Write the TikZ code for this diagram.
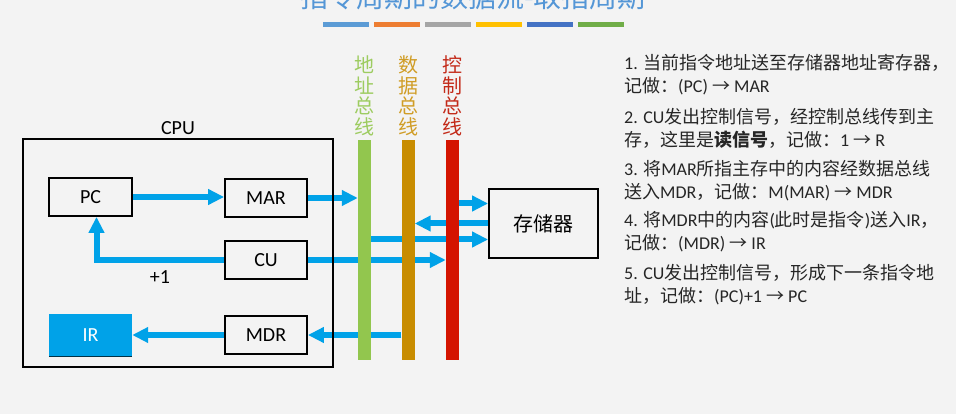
\documentclass[tikz,border=0pt]{standalone}
\usepackage{fontspec}
\setmainfont{Carlito}
\newfontfamily\cjk{Noto Sans CJK SC}
\usetikzlibrary{arrows.meta}

\definecolor{flowblue}{RGB}{0,162,232}
\definecolor{addrgreen}{RGB}{146,198,78}
\definecolor{datagold}{RGB}{200,140,0}
\definecolor{ctrlred}{RGB}{212,20,0}
\definecolor{bggray}{RGB}{243,243,243}
\definecolor{titleblue}{RGB}{84,150,214}
\definecolor{barblue}{RGB}{91,155,213}
\definecolor{barorange}{RGB}{237,125,49}
\definecolor{bargray}{RGB}{165,165,165}
\definecolor{baryellow}{RGB}{255,192,0}
\definecolor{bardarkblue}{RGB}{68,114,196}
\definecolor{bargreen}{RGB}{112,173,71}

\newcommand{\zh}[1]{{\cjk #1}}

\pgfdeclarelayer{back}
\pgfdeclarelayer{flows}
\pgfsetlayers{back,flows,main}

\tikzset{
  reg/.style={draw=black, line width=1.8pt, minimum width=82pt, minimum height=38pt,
    inner sep=0pt, font=\fontsize{20}{23}\selectfont},
  bus/.style={minimum width=13pt, minimum height=220pt, inner sep=0pt},
  buslabel/.style={anchor=south, align=center, inner sep=1pt,
    font=\cjk\fontsize{20}{20.5}\selectfont},
  flow/.style={draw=flowblue, line width=6pt, -{Triangle[length=16pt,width=15pt]}},
  stepnote/.style={anchor=west, align=left, inner sep=0pt, text=black!85,
    font=\fontsize{18}{23}\selectfont},
}

\begin{document}
\begin{tikzpicture}[x=1pt, y=-1pt]
    \useasboundingbox (0,0) rectangle (956,414);
    \begin{pgfonlayer}{back}
        \fill[bggray] (0,0) rectangle (956,414);
    \end{pgfonlayer}

    % Title (cut off at the top) and colour strip
    \node[titleblue, anchor=base, inner sep=0pt, font=\cjk\fontsize{28}{30}\selectfont]
        (title) at (473,8) {指令周期的数据流-取指周期};
    \foreach \c [count=\i from 0] in {barblue,barorange,bargray,baryellow,bardarkblue,bargreen}
        \fill[\c] (323+\i*51,22) rectangle ++(46,5);

    % CPU and its registers
    \node[draw, line width=2pt, minimum width=310pt, minimum height=228pt, inner sep=0pt,
        label={[font=\fontsize{20}{23}\selectfont]above:CPU}] (cpu) at (178,253) {};
    \node[reg, minimum width=83pt] (pc) at (90.5,197) {PC};
    \node[reg] (mar) at (266,198) {MAR};
    \node[reg] (cu) at (266,260) {CU};
    \node[reg] (mdr) at (266,335) {MDR};
    \node[fill=flowblue, text=white, minimum width=83pt, minimum height=42pt, inner sep=0pt,
        font=\fontsize{20}{23}\selectfont] (ir) at (90.5,335) {IR};
    \draw[line width=1.2pt, black!70!flowblue] (ir.south west) -- (ir.south east);
    \node[font=\fontsize{20}{23}\selectfont] (inc) at (160,277) {+1};

    % Buses
    \node[bus, fill=addrgreen] (abus) at (364.5,250) {};
    \node[bus, fill=datagold] (dbus) at (408,250) {};
    \node[bus, fill=ctrlred] (cbus) at (452.5,250) {};
    \node[buslabel, text=addrgreen!90!white] at ([yshift=3pt]abus.north) {地\\址\\总\\线};
    \node[buslabel, text=datagold!85!white] at ([yshift=3pt]dbus.north) {数\\据\\总\\线};
    \node[buslabel, text=ctrlred!80!gray] at ([yshift=3pt]cbus.north) {控\\制\\总\\线};

    % Memory
    \node[reg, minimum width=109pt, minimum height=69pt, font=\cjk\fontsize{20}{22}\selectfont]
        (mem) at (543.5,223.5) {存储器};
    \coordinate (m1) at ([yshift=20pt]mem.west);
    \coordinate (m3) at ([yshift=-16pt]mem.west);

    % Data flow (under the buses and boxes)
    \begin{pgfonlayer}{flows}
        \draw[flow] (pc.east) -- (pc.east -| mar.west);
        \draw[flow] (cu.west) -| ([xshift=6pt]pc.south);
        \draw[flow] (mdr.west) -- (ir.east);
        \draw[flow] (mar.east) -- (mar.east -| abus.west);
        \draw[flow] (cu.east) -- (cu.east -| cbus.west);
        \draw[flow] (dbus.west |- mdr.east) -- (mdr.east);
        \draw[flow] (cbus.east |- m1) -- (m1);
        \draw[flow] (mem.west) -- (mem.west -| dbus.east);
        \draw[flow] (abus.east |- m3) -- (m3);
    \end{pgfonlayer}

    % Steps
    \node[stepnote] (s1) at (624,74.5)
        {1. \zh{当前指令地址送至存储器地址寄存器，}\\\zh{记做：}(PC) \zh{→} MAR};
    \node[stepnote] (s2) at (624,128.5)
        {2. CU\zh{发出控制信号，经控制总线传到主}\\\zh{存，这里是}\zh{\bfseries 读信号}\zh{，记做：}1 \zh{→} R};
    \node[stepnote] (s3) at (624,180.5)
        {3. \zh{将}MAR\zh{所指主存中的内容经数据总线}\\\zh{送入}MDR\zh{，记做：}M(MAR) \zh{→} MDR};
    \node[stepnote] (s4) at (624,232)
        {4. \zh{将}MDR\zh{中的内容}(\zh{此时是指令})\zh{送入}IR\zh{，}\\\zh{记做：}(MDR) \zh{→} IR};
    \node[stepnote] (s5) at (624,285)
        {5. CU\zh{发出控制信号，形成下一条指令地}\\\zh{址，记做：}(PC)+1 \zh{→} PC};
\end{tikzpicture}
\end{document}
